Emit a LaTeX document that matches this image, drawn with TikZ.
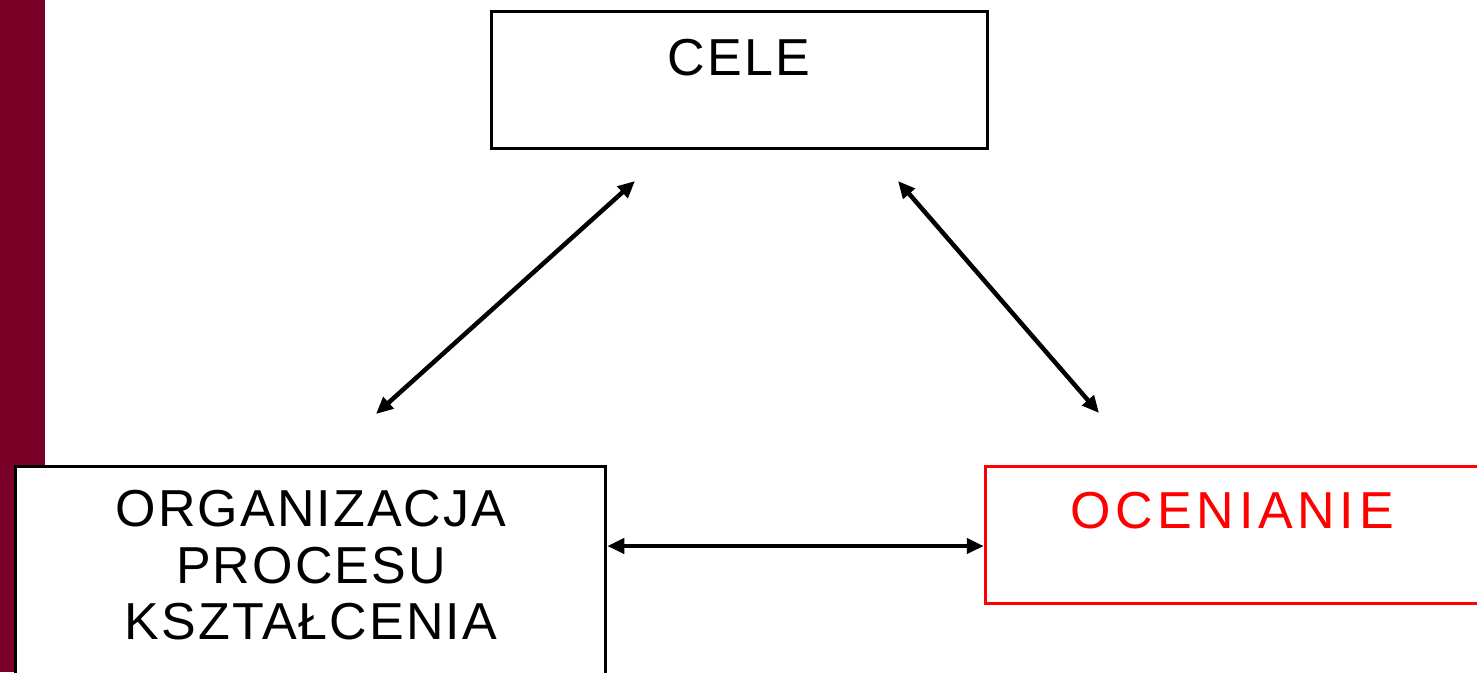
\documentclass[tikz,border=0pt]{standalone}
\usepackage{fontspec}
\setmainfont{Liberation Sans}
\newfontfamily\boxfont{Liberation Sans}[LetterSpace=4]
\newfontfamily\widefont{Liberation Sans}[LetterSpace=9]
\usetikzlibrary{arrows.meta}
\definecolor{barmaroon}{RGB}{122,0,40}
\definecolor{ocred}{RGB}{255,0,0}
\begin{document}
\begin{tikzpicture}[x=1pt,y=-1pt,
  box/.style={draw, line width=3.5pt, rectangle, inner sep=0pt},
  lbl/.style={font=\boxfont\fontsize{52}{57}\selectfont, inner sep=0pt, anchor=base},
  link/.style={line width=4.5pt, {Triangle[length=17pt,width=15pt]}-{Triangle[length=17pt,width=15pt]}}]
\useasboundingbox (0,0) rectangle (1477,672);
\clip (0,0) rectangle (1477,672);
\fill[barmaroon] (0,0) rectangle (45,672);
% boxes
\node[box, fill=white, minimum width=496pt, minimum height=137pt] (cele) at (739.5,80) {};
\node[box, fill=white, minimum width=590pt, minimum height=240pt] (org) at (310.5,586.5) {};
\node[box, draw=ocred, fill=white, minimum width=520pt, minimum height=137pt] (ocen) at (1245.5,535) {};
% texts
\node[lbl] (celetxt) at (739,75) {CELE};
\node[lbl] (org1) at (311,526) {ORGANIZACJA};
\node[lbl] (org2) at (311,583) {PROCESU};
\node[lbl] (org3) at (311,639) {KSZTAŁCENIA};
\node[lbl, font=\widefont\fontsize{52}{57}\selectfont, text=ocred] (ocentxt) at (1232,528) {OCENIANIE};
% connector ends
\coordinate (l1) at (635,181);
\coordinate (l2) at (376,414);
\coordinate (r1) at (898,181);
\coordinate (r2) at (1099,413);
\coordinate (h1) at (org.east |- 0,546);
\coordinate (h2) at (ocen.west |- 0,546);
\draw[link] (l1) -- (l2);
\draw[link] (r1) -- (r2);
\draw[link] (h1) -- (h2);
\end{tikzpicture}
\end{document}
